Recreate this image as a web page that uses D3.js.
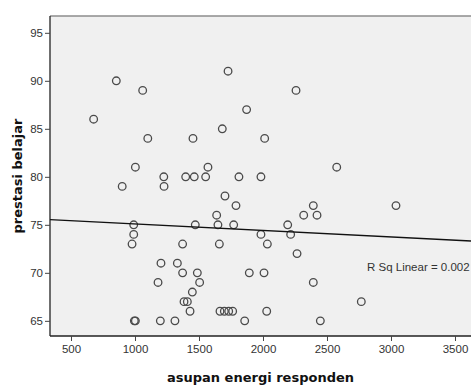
<!DOCTYPE html>
<html>
<head>
<meta charset="utf-8">
<script src="https://cdn.jsdelivr.net/npm/d3@7"></script>
<style>
  body { margin: 0; background: #fff; }
  .tick text { font-family: "Liberation Sans", Arial, sans-serif; font-size: 11.5px; fill: #333; }
  .title { font-family: "DejaVu Sans", Verdana, sans-serif; font-weight: bold; font-size: 13px; fill: #111; }
</style>
</head>
<body>
<svg id="chart" width="471" height="387"></svg>
<script>
// asupan energi (x) and prestasi belajar (y)
const energy = [677, 854, 1060, 1100, 1003, 900, 1225, 1227, 1396, 1463, 1552, 1453, 1570,
  1682, 1727, 1703, 1812, 2258, 1872, 2013, 1984, 2576,
  990, 990, 977, 1372, 1203, 1331, 1372, 1487, 1180, 1505, 1448, 1383, 1409, 1430,
  995, 1003, 1198, 1312, 1471, 1638, 1648, 1659, 1771, 1789,
  1664, 1698, 1732, 1763, 1984, 2034, 2193, 2216, 2266, 2318, 2393, 2422, 3039,
  1893, 2008, 2393, 2768, 2029, 1857, 2448];
const score = [86, 90, 89, 84, 81, 79, 80, 79, 80, 80, 80, 84, 81,
  85, 91, 78, 80, 89, 87, 84, 80, 81,
  75, 74, 73, 73, 71, 71, 70, 70, 69, 69, 68, 67, 67, 66,
  65, 65, 65, 65, 75, 76, 75, 73, 75, 77,
  66, 66, 66, 66, 74, 73, 75, 74, 72, 76, 77, 76, 77,
  70, 70, 69, 67, 66, 65, 65];

// linear fit (as drawn by the source): [x, y] at the two ends of the panel
const fitX = [336, 3625];
const fitY = [75.54, 73.31];
const rsqLabel = "R Sq Linear = 0.002";

const xTicks = [500, 1000, 1500, 2000, 2500, 3000, 3500];
const yTicks = [65, 70, 75, 80, 85, 90, 95];

const plotL = 50, plotT = 16, plotR = 471, plotB = 336;

const svg = d3.select("#chart");
const x = d3.scaleLinear().domain([336, 3625]).range([plotL, plotR]);
const y = d3.scaleLinear().domain([63.42, 96.75]).range([plotB, plotT]);

// panel
svg.append("rect").attr("x", plotL).attr("y", plotT)
  .attr("width", plotR - plotL).attr("height", plotB - plotT)
  .attr("fill", "#f0f0f0");
svg.append("line").attr("x1", plotL).attr("x2", plotR).attr("y1", plotT).attr("y2", plotT)
  .attr("stroke", "#8c8c8c").attr("stroke-width", 1.5);

// axes
const yAxis = svg.append("g").attr("transform", `translate(${plotL},0)`)
  .call(d3.axisLeft(y).tickValues(yTicks).tickFormat(d3.format("d"))
    .tickSize(5).tickPadding(2).tickSizeOuter(0));
const xAxis = svg.append("g").attr("transform", `translate(0,${plotB})`)
  .call(d3.axisBottom(x).tickValues(xTicks).tickFormat(d3.format("d"))
    .tickSize(5).tickPadding(4).tickSizeOuter(0));
[xAxis, yAxis].forEach(g => {
  g.select(".domain").attr("stroke", "#222").attr("stroke-width", 1.3);
  g.selectAll(".tick line").attr("stroke", "#444");
});
yAxis.select(".domain").attr("d", `M0,${plotT}V${plotB}`);
xAxis.select(".domain").attr("d", `M${plotL},0H${plotR}`);

// points
svg.append("g").selectAll("circle")
  .data(energy.map((e, i) => [e, score[i]]))
  .join("circle")
  .attr("cx", d => x(d[0]))
  .attr("cy", d => y(d[1]))
  .attr("r", 3.8)
  .attr("fill", "none")
  .attr("stroke", "#4a4a4a")
  .attr("stroke-width", 1.3);

// fit line
svg.append("line")
  .attr("x1", x(fitX[0])).attr("y1", y(fitY[0]))
  .attr("x2", x(fitX[1])).attr("y2", y(fitY[1]))
  .attr("stroke", "#111").attr("stroke-width", 1.4);

svg.append("text")
  .attr("x", 367).attr("y", 271)
  .attr("font-family", "Liberation Sans, Arial, sans-serif")
  .attr("font-size", "11.5px").attr("fill", "#333")
  .text(rsqLabel);

// titles
svg.append("text").attr("class", "title")
  .attr("x", (plotL + plotR) / 2).attr("y", 382)
  .attr("text-anchor", "middle")
  .text("asupan energi responden");
svg.append("text").attr("class", "title")
  .attr("transform", `translate(22,${(plotT + plotB) / 2}) rotate(-90)`)
  .attr("text-anchor", "middle")
  .text("prestasi belajar");
</script>
</body>
</html>
